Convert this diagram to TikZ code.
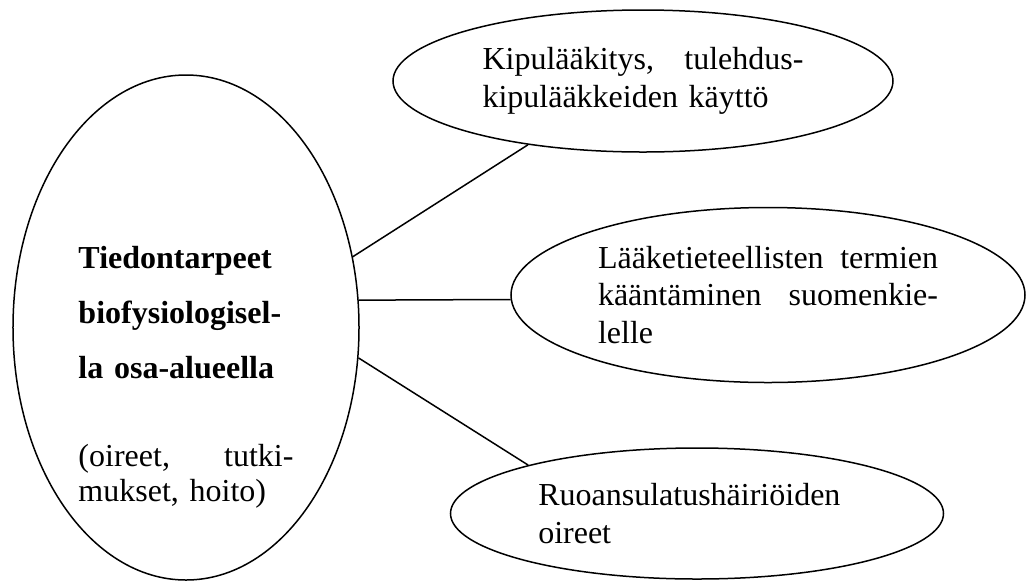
\documentclass[tikz,border=0pt]{standalone}
\usepackage{fontspec}
\setmainfont{Liberation Serif}
\usetikzlibrary{shapes.geometric}
\begin{document}
\begin{tikzpicture}[x=0.4pt,y=-0.4pt,
  bubble/.style={draw,ellipse,inner sep=0pt,line width=0.6pt,align=left,
    font=\fontsize{12.8}{15}\selectfont}]
\useasboundingbox (0,0) rectangle (1027,581);
\node[bubble,minimum width=138.4pt,minimum height=202pt,text width=86pt,
  text height=0pt,text depth=47.6pt] (needs) at (186,327.5)
  {\textbf{Tiedontarpeet}\\[7pt]\textbf{biofysiologisel-}\\[7pt]\textbf{la osa-alueella}\\[20.4pt](oireet,\hfill tutki-\\[-1pt]mukset, hoito)};
\node[bubble,minimum width=200pt,minimum height=56.8pt,text width=128.4pt] (kipu) at (643,81)
  {Kipulääkitys,\hfill tulehdus-\\kipulääkkeiden käyttö};
\node[bubble,minimum width=205.6pt,minimum height=70pt,text width=136pt] (termit) at (768,295)
  {Lääketieteellisten\hfill termien\\kääntäminen\hfill suomenkie-\\lelle};
\node[bubble,minimum width=197.2pt,minimum height=52.4pt,text width=127pt] (ruoka) at (697,513.5)
  {Ruoansulatushäiriöiden\\oireet};
\draw[line width=0.6pt] (needs.23) -- (kipu.209);
\draw[line width=0.6pt] (needs.9) -- (termit.181);
\draw[line width=0.6pt] (needs.-10) -- (ruoka.164);
\end{tikzpicture}
\end{document}
